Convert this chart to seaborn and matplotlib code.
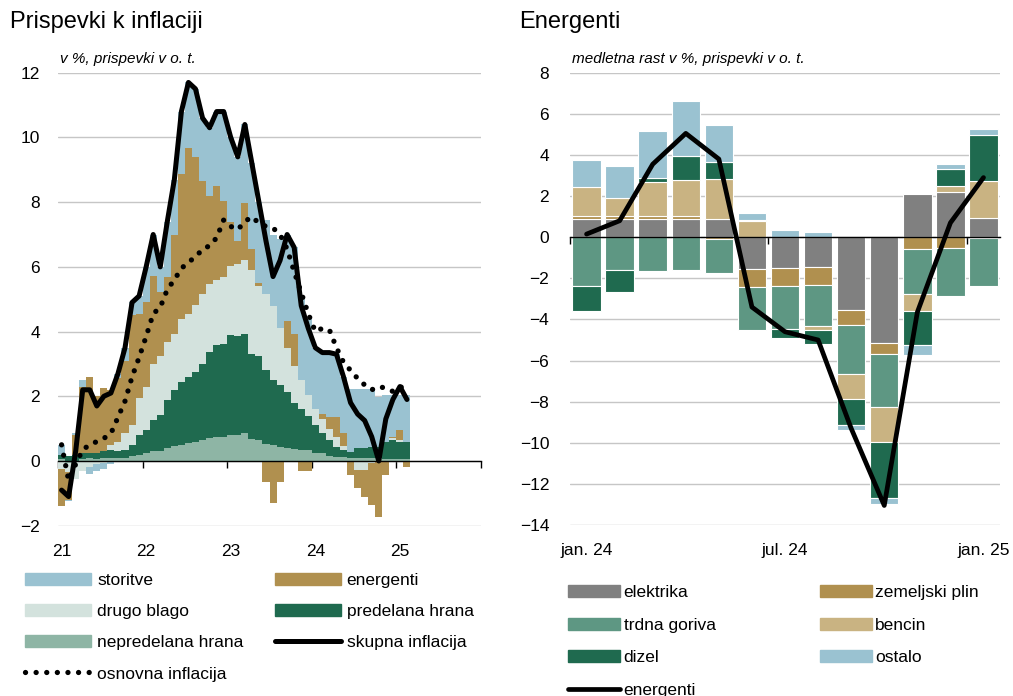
import numpy as np
import pandas as pd
import matplotlib
matplotlib.use('Agg')
import matplotlib.pyplot as plt
import seaborn as sns
from matplotlib.patches import Patch
from matplotlib.lines import Line2D

# LEVI GRAF: prispevki k inflaciji (jan 2021 - feb 2025), v o. t.
nepredelana_hrana = [0.05, -0.05, 0.0, 0.05, 0.1, 0.05, 0.1, 0.1, 0.1, 0.1, 0.15, 0.2,
                     0.25, 0.3, 0.3, 0.4, 0.45, 0.5, 0.55, 0.6, 0.65, 0.72, 0.75, 0.75,
                     0.8, 0.8, 0.87, 0.68, 0.66, 0.52, 0.5, 0.42, 0.4, 0.38, 0.33, 0.33,
                     0.25, 0.24, 0.15, 0.12, 0.12, 0.1, 0.1, 0.08, 0.08, 0.08, 0.05, 0.05,
                     0.05, 0.05]
predelana_hrana = [0.15, 0.15, 0.2, 0.2, 0.15, 0.2, 0.2, 0.25, 0.2, 0.25, 0.35, 0.6,
                   0.7, 0.96, 1.11, 1.47, 1.73, 1.94, 2.04, 2.15, 2.35, 2.64, 2.82, 2.87,
                   3.08, 3.05, 3.07, 2.62, 2.6, 2.28, 2.0, 1.92, 1.72, 1.42, 1.27, 1.07,
                   0.85, 0.64, 0.5, 0.32, 0.22, 0.19, 0.29, 0.31, 0.36, 0.36, 0.55, 0.6,
                   0.55, 0.55]
drugo_blago = [-0.25, -0.3, -0.55, -0.3, -0.2, -0.1, -0.05, 0.15, 0.3, 0.5, 0.6, 1.15,
               1.35, 1.74, 1.85, 1.8, 1.75, 1.95, 1.96, 2.06, 2.17, 2.11, 2.03, 2.08,
               2.16, 2.25, 2.26, 2.6, 2.14, 2.35, 2.3, 1.76, 1.38, 1.15, 0.9, 0.65,
               0.5, 0.42, 0.35, 0.31, 0.11, 0.0, -0.28, -0.28, -0.05, 0.0, 0.0, 0.05,
               0.05, 0.0]
energenti = [-1.15, -0.85, 0.6, 2.05, 2.35, 1.75, 1.95, 1.7, 1.95, 2.25, 3.4, 2.6,
             2.6, 2.73, 1.96, 2.01, 3.04, 4.48, 5.12, 4.59, 3.49, 2.73, 2.9, 2.34,
             1.34, 0.71, 1.76, 0.65, 0.1, -0.65, -1.3, -0.65, 0.84, 0.98, -0.3, -0.3,
             0.0, 0.15, 0.37, 0.62, 0.41, -0.44, -0.57, -0.83, -1.32, -1.73, -0.44, 0.05,
             0.3, -0.18]
storitve = [0.3, -0.05, 0.05, 0.2, -0.2, -0.2, -0.2, -0.1, 0.15, 0.4, 0.4, 0.55,
            1.1, 1.27, 0.78, 1.72, 1.73, 1.93, 2.03, 2.1, 1.94, 2.1, 2.3, 2.76,
            2.62, 2.59, 2.44, 2.65, 2.5, 2.3, 2.2, 2.75, 2.66, 2.67, 2.6, 2.35,
            1.9, 1.9, 1.98, 1.93, 1.74, 1.95, 1.85, 1.85, 1.8, 1.55, 1.44, 1.29,
            1.09, 1.44]
skupna_inflacija = [-0.9, -1.1, 0.3, 2.2, 2.2, 1.7, 2.0, 2.1, 2.7, 3.5, 4.9, 5.1,
                    6.0, 7.0, 6.0, 7.4, 8.7, 10.8, 11.7, 11.5, 10.6, 10.3, 10.8, 10.8,
                    10.0, 9.4, 10.4, 9.2, 8.0, 6.8, 5.7, 6.2, 7.0, 6.6, 4.8, 4.1,
                    3.5, 3.35, 3.35, 3.3, 2.6, 1.8, 1.45, 1.25, 0.75, 0.0, 1.3, 1.9,
                    2.3, 1.9]
osnovna_inflacija = [0.5, -0.6, -0.1, 0.35, 0.5, 0.6, 0.7, 0.85, 1.35, 1.85, 2.6, 3.2,
                     3.85, 4.55, 4.75, 5.3, 5.6, 5.95, 6.15, 6.3, 6.55, 6.65, 6.9, 7.45,
                     7.25, 7.15, 7.4, 7.55, 7.35, 7.25, 7.2, 7.0, 6.55, 5.85, 5.2, 4.55,
                     4.0, 4.1, 4.05, 3.5, 3.05, 2.8, 2.55, 2.35, 2.2, 2.3, 2.25, 2.15,
                     2.3, 2.2]
leta = ['21', '22', '23', '24', '25']

# DESNI GRAF: energenti (jan 2024 - jan 2025)
mesci_e = ['jan. 24', 'feb. 24', 'mar. 24', 'apr. 24', 'maj 24', 'jun. 24', 'jul. 24',
           'avg. 24', 'sep. 24', 'okt. 24', 'nov. 24', 'dec. 24', 'jan. 25']
elektrika = [0.88, 0.9, 0.9, 0.9, 0.9, -1.57, -1.52, -1.47, -3.55, -5.15, 2.1, 2.19, 0.93]
zemeljski_plin = [0.14, 0.12, 0.14, 0.14, -0.1, -0.85, -0.85, -0.87, -0.71, -0.53, -0.58, -0.53, -0.05]
trdna_goriva = [-2.37, -1.58, -1.65, -1.6, -1.63, -2.09, -2.11, -2.0, -2.38, -2.56, -2.17, -2.35, -2.32]
bencin = [1.41, 0.89, 1.63, 1.75, 1.94, 0.78, 0.0, -0.17, -1.23, -1.73, -0.82, 0.29, 1.78]
dizel = [-1.23, -1.08, 0.2, 1.18, 0.84, 0.05, -0.4, -0.69, -1.28, -2.7, -1.68, 0.83, 2.25]
ostalo = [1.33, 1.53, 2.28, 2.64, 1.8, 0.34, 0.35, 0.25, -0.21, -0.32, -0.46, 0.24, 0.31]
energenti_skupaj = [0.15, 0.8, 3.55, 5.05, 3.8, -3.4, -4.6, -5.0, -9.3, -13.05, -3.65, 0.7, 2.9]

# barve
c_storitve = '#9ac2d1'
c_energenti = '#b0904f'
c_drugo = '#d3e2dd'
c_predelana = '#1f6a4f'
c_nepredelana = '#8eb5a5'
c_elektrika = '#808080'
c_trdna = '#5e9783'
c_bencin = '#c9b382'

sns.set_style('white')
plt.rcParams['font.family'] = ['Liberation Sans', 'DejaVu Sans']
plt.rcParams['axes.unicode_minus'] = True
for k in ['text.color', 'axes.labelcolor', 'xtick.color', 'ytick.color']:
    plt.rcParams[k] = 'black'

FS = 12.5


def stacked_bars(ax, x, series, colors, width, edge=None, lw=0.0, aa=True):
    pos = np.zeros(len(x))
    neg = np.zeros(len(x))
    for vals, col in zip(series, colors):
        v = np.asarray(vals, dtype=float)
        bottom = np.where(v >= 0, pos, neg)
        ax.bar(x, v, width, bottom=bottom, color=col,
               edgecolor=edge if edge else col, linewidth=lw, antialiased=aa, zorder=2)
        pos += np.clip(v, 0, None)
        neg += np.clip(v, None, 0)


def style_axes(ax, yticks, xtick_marks, xlab_pos, xlab, ypad):
    ax.set_ylim(yticks[0], yticks[-1])
    ax.set_yticks(yticks)
    ax.grid(axis='y', color='#c6c6c6', lw=1)
    ax.grid(axis='x', visible=False)
    ax.set_axisbelow(True)
    for s in ['left', 'right', 'top']:
        ax.spines[s].set_visible(False)
    ax.spines['bottom'].set_position(('data', 0))
    ax.spines['bottom'].set_color('black')
    ax.spines['bottom'].set_linewidth(1)
    ax.spines['bottom'].set_zorder(3)
    ax.set_xticks(xtick_marks)
    ax.tick_params(axis='x', direction='out', length=5, width=1, color='black',
                   labelbottom=False, bottom=True)
    ax.tick_params(axis='y', length=0, labelsize=FS, pad=ypad)
    ax.set_xlabel('')
    ax.set_ylabel('')
    sec = ax.secondary_xaxis(0)
    sec.set_xticks(xlab_pos, xlab)
    sec.tick_params(length=0, labelsize=FS, pad=13)
    sec.spines['bottom'].set_visible(False)


fig = plt.figure(figsize=(10.13, 6.96), dpi=100)

# ---- levi graf
ax1 = fig.add_axes([0.0573, 0.2447, 0.4175, 0.6508])
x1 = np.arange(len(skupna_inflacija))
stacked_bars(ax1, x1,
             [nepredelana_hrana, predelana_hrana, drugo_blago, energenti, storitve],
             [c_nepredelana, c_predelana, c_drugo, c_energenti, c_storitve],
             width=1.0, lw=0, aa=False)
df1 = pd.DataFrame({'x': x1, 'skupna': skupna_inflacija, 'osnovna': osnovna_inflacija})
sns.lineplot(data=df1, x='x', y='osnovna', ax=ax1, color='black', lw=3.8,
             linestyle=(0, (0.01, 2.0)), dash_capstyle='round', zorder=5)
sns.lineplot(data=df1, x='x', y='skupna', ax=ax1, color='black', lw=3.6, zorder=6)
ax1.set_xlim(-0.5, 59.5)
style_axes(ax1, list(range(-2, 13, 2)), [-0.5 + 12 * k for k in range(6)],
           [12 * k for k in range(5)], leta, ypad=13)
ax1.text(0.004, 1.014, 'v %, prispevki v o. t.', transform=ax1.transAxes,
         style='italic', fontsize=11, va='bottom', ha='left')

# ---- desni graf
ax2 = fig.add_axes([0.5627, 0.2457, 0.4245, 0.6498])
x2 = np.arange(len(mesci_e))
stacked_bars(ax2, x2,
             [elektrika, zemeljski_plin, trdna_goriva, bencin, dizel, ostalo],
             [c_elektrika, c_energenti, c_trdna, c_bencin, c_predelana, c_storitve],
             width=0.86, edge='white', lw=0.8)
df2 = pd.DataFrame({'x': x2, 'energenti': energenti_skupaj})
sns.lineplot(data=df2, x='x', y='energenti', ax=ax2, color='black', lw=3.4, zorder=6)
ax2.set_xlim(-0.5, 12.5)
style_axes(ax2, list(range(-14, 9, 2)), [-0.5, 5.5, 11.5], [0, 6, 12],
           [mesci_e[0], mesci_e[6], mesci_e[12]], ypad=15)
ax2.text(0.004, 1.014, 'medletna rast v %, prispevki v o. t.', transform=ax2.transAxes,
         style='italic', fontsize=11, va='bottom', ha='left')

# ---- naslovi
fig.text(10 / 1013, 1 - 22 / 696, 'Prispevki k inflaciji', fontsize=17, va='center')
fig.text(519 / 1013, 1 - 22 / 696, 'Energenti', fontsize=17, va='center')

# ---- legende (vrstni red po stolpcih)
h_left = [Patch(color=c_storitve), Patch(color=c_drugo), Patch(color=c_nepredelana),
          Line2D([], [], color='black', lw=3.8, linestyle=(0, (0.01, 2.0)),
                 dash_capstyle='round'),
          Patch(color=c_energenti), Patch(color=c_predelana),
          Line2D([], [], color='black', lw=3.6)]
l_left = ['storitve', 'drugo blago', 'nepredelana hrana', 'osnovna inflacija',
          'energenti', 'predelana hrana', 'skupna inflacija']
fig.legend(h_left, l_left, ncol=2, loc='upper left',
           bbox_to_anchor=(25 / 1013, 1 - 573 / 696), frameon=False, fontsize=FS,
           handlelength=3.8, handleheight=0.7, handletextpad=0.35,
           columnspacing=1.8, labelspacing=0.92, borderaxespad=0, borderpad=0)

h_right = [Patch(color=c_elektrika), Patch(color=c_trdna), Patch(color=c_predelana),
           Line2D([], [], color='black', lw=3.4),
           Patch(color=c_energenti), Patch(color=c_bencin), Patch(color=c_storitve)]
l_right = ['elektrika', 'trdna goriva', 'dizel', 'energenti',
           'zemeljski plin', 'bencin', 'ostalo']
fig.legend(h_right, l_right, ncol=2, loc='upper left',
           bbox_to_anchor=(568 / 1013, 1 - 585 / 696), frameon=False, fontsize=FS,
           handlelength=3.0, handleheight=0.7, handletextpad=0.2,
           columnspacing=6.0, labelspacing=1.0, borderaxespad=0, borderpad=0)

fig.savefig('out.png', dpi=100)
plt.close(fig)
